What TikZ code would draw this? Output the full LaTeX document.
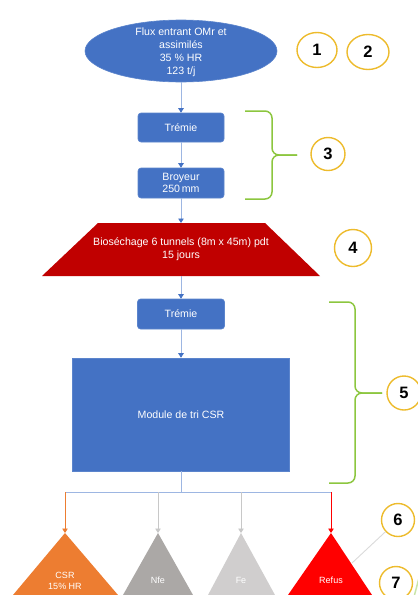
\documentclass[tikz,border=0pt]{standalone}
\usepackage{fontspec}
\setmainfont{Liberation Sans}
\usetikzlibrary{arrows.meta,shapes.geometric}

\definecolor{boxblue}{HTML}{4472C4}
\definecolor{boxedge}{HTML}{5B84CC}
\definecolor{linkblue}{HTML}{9DB6E2}
\definecolor{dryred}{HTML}{C00000}
\definecolor{csrorange}{HTML}{ED7D31}
\definecolor{nfegray}{HTML}{ABA8A6}
\definecolor{fegray}{HTML}{D0CECE}
\definecolor{dropgray}{HTML}{C8C8C8}
\definecolor{refusred}{HTML}{FF0000}
\definecolor{badgegold}{HTML}{EDBB2C}
\definecolor{bracegreen}{HTML}{8CC63F}
\definecolor{palegreen}{HTML}{C9E5A8}
\definecolor{leadgray}{HTML}{DADADA}

\begin{document}
\begin{tikzpicture}[x=1pt,y=-1pt,
  proc/.style={draw=boxedge, fill=boxblue, text=white, rounded corners=3pt,
    align=center, font=\fontsize{10.6}{12.5}\selectfont, inner sep=0pt, line width=0.6pt},
  whitetext/.style={text=white, align=center, font=\fontsize{10.6}{13}\selectfont, inner sep=0pt},
  bintext/.style={text=white, align=center, font=\fontsize{9}{10.5}\selectfont, inner sep=0pt},
  flow/.style={draw=linkblue, line width=0.9pt,
    -{Triangle[width=5.5pt,length=4.5pt,color=boxblue,fill=boxblue]}},
  linkline/.style={draw=linkblue, line width=0.9pt},
  droptip/.style={line width=0.9pt, -{Triangle[width=5.5pt,length=4.5pt]}},
  badge/.style={ellipse, draw=badgegold, line width=1.4pt, fill=white, inner sep=0pt,
    font=\fontsize{16.5}{16.5}\selectfont\bfseries},
  bracket/.style={draw=bracegreen, line width=1.5pt, rounded corners=7pt},
]
\useasboundingbox (0,0) rectangle (418,595);
\clip (0,0) rectangle (418,595);

% incoming flow
\node[ellipse, fill=boxblue, draw=boxedge, line width=0.6pt, inner sep=0pt,
  minimum width=192pt, minimum height=62pt] (intake) at (181,51) {};
\node[whitetext] (intakeText) at (181,52) {Flux entrant OMr et\\assimilés\\35 \% HR\\123 t/j};

% hopper and shredder
\node[proc, minimum width=86pt, minimum height=29pt] (tremieA) at (181,127.5) {Trémie};
\node[proc, minimum width=86pt, minimum height=30pt] (broyeur) at (181,183) {Broyeur\\250\,mm};

% bio-drying tunnels
\fill[dryred] (98,223) -- (265,223) -- (320,276) -- (42,276) -- cycle;
\coordinate (dryTop) at (181,223);
\coordinate (dryBot) at (181,276);
\node[whitetext] (dry) at (181,249.5) {Bioséchage 6 tunnels (8m x 45m) pdt\\15 jours};

% second hopper and sorting module
\node[proc, minimum width=87pt, minimum height=30pt] (tremieB) at (181,314) {Trémie};
\node[proc, rounded corners=0pt, minimum width=217pt, minimum height=113pt] (module) at (181,414.5) {Module de tri CSR};

% main line
\draw[flow] (intake) -- (tremieA);
\draw[flow] (tremieA) -- (broyeur);
\draw[flow] (broyeur) -- (dryTop);
\draw[flow] (dryBot) -- (tremieB);
\draw[flow] (tremieB) -- (module);

% output bins
\fill[csrorange] (65,533) -- (118,595) -- (13,595) -- cycle;
\fill[nfegray] (158,533) -- (193,595) -- (123,595) -- cycle;
\fill[fegray] (241,533) -- (275,595) -- (208,595) -- cycle;
\fill[refusred] (331,533) -- (372,595) -- (288,595) -- cycle;
\coordinate (csrTop) at (65,533);
\coordinate (nfeTop) at (158,533);
\coordinate (feTop) at (241,533);
\coordinate (refusTop) at (331,533);
\node[bintext] (csr) at (65,581) {CSR\\15\% HR};
\node[bintext] (nfe) at (158,580) {Nfe};
\node[bintext] (fe) at (241,580) {Fe};
\node[bintext] (refus) at (331,580) {Refus};

% split towards the bins
\coordinate (split) at (181,492);
\coordinate (jA) at (65,492);
\coordinate (jB) at (158,492);
\coordinate (jC) at (241,492);
\coordinate (jD) at (331,492);
\draw[linkline] (module) -- (split);
\draw[linkline] (jA) -- (jD);
\draw[droptip, draw=csrorange, fill=csrorange] (jA) -- (csrTop);
\draw[droptip, draw=dropgray, fill=nfegray] (jB) -- (nfeTop);
\draw[droptip, draw=dropgray, fill=dropgray] (jC) -- (feTop);
\draw[droptip, draw=refusred, fill=refusred] (jD) -- (refusTop);

% brackets grouping the steps
\draw[bracket] (245,111) -- (272,111) -- (272,155) -- (297,155);
\draw[bracket] (245,199) -- (272,199) -- (272,155) -- (297,155);
\draw[bracket] (329,302) -- (355,302) -- (355,393) -- (382,393);
\draw[bracket] (329,483) -- (355,483) -- (355,393) -- (382,393);
\draw[draw=palegreen, line width=1.5pt] (414.5,595) -- (419,578);

% step badges
\node[badge, minimum width=40pt, minimum height=35pt] (n1) at (317,50) {1};
\node[badge, minimum width=42pt, minimum height=35pt] (n2) at (368,52) {2};
\node[badge, minimum width=34pt, minimum height=33pt] (n3) at (328,154) {3};
\node[badge, minimum width=37pt, minimum height=37pt] (n4) at (353,248) {4};
\node[badge, minimum width=34pt, minimum height=34pt] (n5) at (404,393) {5};
\node[badge, minimum width=33pt, minimum height=33pt] (n6) at (398,520) {6};
\node[badge, minimum width=33pt, minimum height=33pt] (n7) at (396,583) {7};

% pointer from the reject bin to its badge
\coordinate (refusEdge) at (352,563);
\draw[draw=leadgray, line width=0.9pt] (refusEdge) -- (n6);
\end{tikzpicture}
\end{document}
